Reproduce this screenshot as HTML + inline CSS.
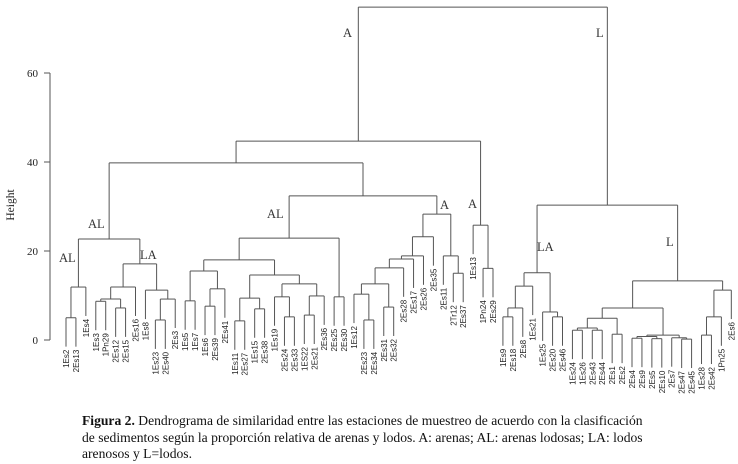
<!DOCTYPE html>
<html><head><meta charset="utf-8">
<style>
body{margin:0;background:#fff;}
svg{display:block;}
.cap{position:absolute;left:82px;font-family:"Liberation Serif",serif;font-size:13.6px;color:#111;white-space:nowrap;}
</style></head>
<body>
<div style="position:relative;width:738px;height:464px;overflow:hidden">
<svg id="chart" width="738" height="464"></svg>
<div class="cap" style="top:413px"><b>Figura 2.</b> Dendrograma de similaridad entre las estaciones de muestreo de acuerdo con la clasificación</div>
<div class="cap" style="top:430px">de sedimentos según la proporción relativa de arenas y lodos. A: arenas; AL: arenas lodosas; LA: lodos</div>
<div class="cap" style="top:446px">arenosos y L=lodos.</div>
</div>
<script>
const yTicks = [0, 20, 40, 60];
const hang = 6.5;
const AL1 = [22.7, [11.9, [5,'1Es2','2Es13'], '1Es4'], [17.1, [11.9, [9.2,[8.7,'1Es3','1Pn29'],[7.2,'2Es12','2Es15']], '2Es16'], [11.2,'1Es8',[9.2,[4.5,'1Es23','2Es40'],'2Es3']]]];
const AL2 = [22.9, [18, [15.5,[8.8,'1Es5','1Es7'],[11.5,[7.6,'1Es6','2Es39'],'2Es41']], [14.6,[9.4,[4.3,'1Es11','2Es27'],[7,'1Es15','2Es38']],[12.6,[9.7,'1Es19',[5.2,'2Es24','2Es33']],[9.9,[5.6,'1ES22','2Es21'],'2Es36']]]], [9.7,'2Es25','2Es30']];
const Agrp = [28.3, [23.2,[18.9,[18.2,[16.2,[12.6,[10.3,'1Es12',[4.5,'2Es23','2Es34']],[7.4,'2Es31','2Es32']],'2Es28'],'2Es17'],'2Es26'],'2Es35'], [18.9,'2Es11',[15,'2Tr12','2Es37']]];
const A2 = [25.8,'1Es13',[16.1,'1Pn24','2Es29']];
const LAgrp = [15.1,[12.1,[7.2,[5.2,'1Es9','2Es18'],'2Es8'],'1Es21'],[6.3,'1Es25',[5.2,'2Es20','2Es46']]];
const Lgrp = [13.3,[7.2,[4.9,[2.7,[2.2,'1Es24','1Es26'],[2.2,'2Es43','2Es44']],[1.3,'2Es1','2Es2']],[1.1,[0.8,[0.4,'2Es4','2Es9'],[0.3,'2Es5','2Es10']],[0.5,'2Es7',[0.2,'2Es47','2Es45']]]],[11.2,[5.2,[1.1,'1Es28','2Es42'],'1Pn25'],'2Es6']];
const tree = [74.8, [44.7, [39.8, AL1, [32.4, AL2, Agrp]], A2], [30.3, LAgrp, Lgrp]];
const groupLabels = [['A',343,37],['L',596,37],['AL',88,228],['AL',59,262],['LA',140,259],['AL',267,218],['A',440,209],['A',468,208],['LA',537,251],['L',666,246]];

const svg = document.getElementById('chart');
const NS = 'http://www.w3.org/2000/svg';
const y = h => 340 - h * 4.45;
const xLeaf = i => 66 + i * 9.93;
function mk(tag, attrs){const e=document.createElementNS(NS,tag);for(const k in attrs)e.setAttribute(k,attrs[k]);svg.appendChild(e);return e;}
let leafCount = 0;
function line(x1,y1,x2,y2,name){
  const l = mk('line',{x1,y1,x2,y2,stroke:'#555','stroke-width':1});
  
  
}
function layout(node){
  if (typeof node === 'string'){ return {x:xLeaf(leafCount++), leaf:true, name:node}; }
  const a = layout(node[1]), b = layout(node[2]);
  return {x:(a.x+b.x)/2, h:node[0], kids:[a,b]};
}
function draw(n){
  const yy = y(n.h);
  line(n.kids[0].x, yy, n.kids[1].x, yy, 'merge-branch');
  n.kids.forEach(c=>{
    if (c.leaf){
      const yb = y(n.h - hang);
      line(c.x, yy, c.x, yb, 'leaf-branch');
      const t = mk('text',{x:0,y:0,'font-family':'Liberation Sans, sans-serif','font-size':8,'text-anchor':'end',fill:'#222',transform:`translate(${c.x+3},${yb+3}) rotate(-90)`});
      t.textContent = c.name;
      
      
    } else {
      line(c.x, yy, c.x, y(c.h), 'merge-branch');
      draw(c);
    }
  });
}
const root = layout(tree);
draw(root);
line(50, y(0), 50, y(60), 'y-axis-line');
yTicks.forEach(v=>{
  line(44, y(v), 50, y(v), 'y-tick');
  const t = mk('text',{x:38,y:y(v)+4,'font-family':'Liberation Serif, serif','font-size':11,'text-anchor':'end',fill:'#222'});
  t.textContent = v;
  
  
});
const yt = mk('text',{x:0,y:0,'font-family':'Liberation Serif, serif','font-size':11.5,'text-anchor':'middle',fill:'#222',transform:'translate(14,205) rotate(-90)'});
yt.textContent = 'Height';


groupLabels.forEach(g=>{
  const t = mk('text',{x:g[1],y:g[2],'font-family':'Liberation Serif, serif','font-size':12.5,fill:'#333'});
  t.textContent = g[0];
  
  
});
</script>
</body></html>
